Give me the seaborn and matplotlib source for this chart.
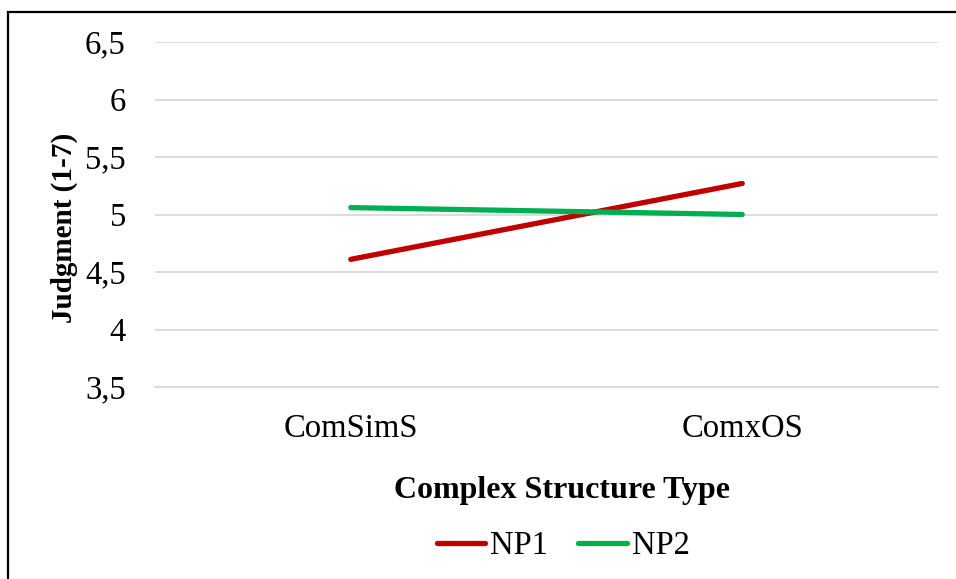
import matplotlib
matplotlib.use("Agg")
import matplotlib.pyplot as plt
from matplotlib.patches import Rectangle
from matplotlib.ticker import FuncFormatter
import seaborn as sns
import pandas as pd

structure_types = ["ComSimS", "ComxOS"]
np1_values = [4.61, 5.27]
np2_values = [5.06, 5.00]
series_names = ["NP1", "NP2"]
y_ticks = [3.5, 4, 4.5, 5, 5.5, 6, 6.5]

df = pd.DataFrame({
    "Complex Structure Type": structure_types * 2,
    "Judgment": np1_values + np2_values,
    "Series": [series_names[0]] * 2 + [series_names[1]] * 2,
})
df["x"] = df["Complex Structure Type"].map({c: i for i, c in enumerate(structure_types)})

sns.set_theme(style="white")
plt.rcParams["font.family"] = ["Liberation Serif", "DejaVu Serif"]
plt.rcParams["text.color"] = "black"
plt.rcParams["axes.labelcolor"] = "black"

W, H = 956, 579
AX_L, AX_R, AX_T, AX_B = 155, 938, 42, 387
fig = plt.figure(figsize=(W / 100, H / 100), dpi=100)
ax = fig.add_axes([AX_L / W, 1 - AX_B / H, (AX_R - AX_L) / W, (AX_B - AX_T) / H])

sns.lineplot(data=df, x="x", y="Judgment", hue="Series",
             palette={"NP1": "#C00000", "NP2": "#00B050"},
             linewidth=3.8, ax=ax, legend=False, solid_capstyle="round")

ax.set_xlim(-0.5, 1.5)
ax.set_ylim(3.5, 6.5)
ax.set_yticks(y_ticks)
ax.yaxis.set_major_formatter(FuncFormatter(lambda v, p: f"{v:g}".replace(".", ",")))
ax.set_xticks(range(len(structure_types)))
ax.set_xticklabels(structure_types)
ax.tick_params(axis="both", length=0, labelsize=23.5, colors="black")
ax.tick_params(axis="y", pad=21)
ax.tick_params(axis="x", pad=19)
ax.yaxis.grid(True, color="#D9D9D9", linewidth=1.3)
ax.xaxis.grid(False)
for s in ax.spines.values():
    s.set_visible(False)
ax.spines["bottom"].set_visible(True)
ax.spines["bottom"].set_color("#D9D9D9")
ax.spines["bottom"].set_linewidth(1.3)

ax.set_xlabel("Complex Structure Type", fontsize=23, fontweight="bold")
ax.xaxis.set_label_coords((562 - AX_L) / (AX_R - AX_L), (AX_B - 476) / (AX_B - AX_T))
ax.set_ylabel("Judgment (1-7)", fontsize=21, fontweight="bold")
ax.yaxis.set_label_coords((78 - AX_L) / (AX_R - AX_L), (AX_B - 228) / (AX_B - AX_T))

handles = [plt.Line2D([], [], color=c, linewidth=3.8, solid_capstyle="round")
           for c in ["#C00000", "#00B050"]]
fig.legend(handles, series_names, loc="center", bbox_to_anchor=(563 / W, 1 - 546 / H),
           ncol=2, frameon=False, fontsize=23.5, handlelength=1.5, handletextpad=0.15,
           columnspacing=0.9)

fig.patches.append(Rectangle((7.5 / W, -0.1), 1.2, 1 - 11.5 / H + 0.1,
                             transform=fig.transFigure, fill=False,
                             edgecolor="black", linewidth=1.6))

fig.savefig("out.png", dpi=100, facecolor="white")
